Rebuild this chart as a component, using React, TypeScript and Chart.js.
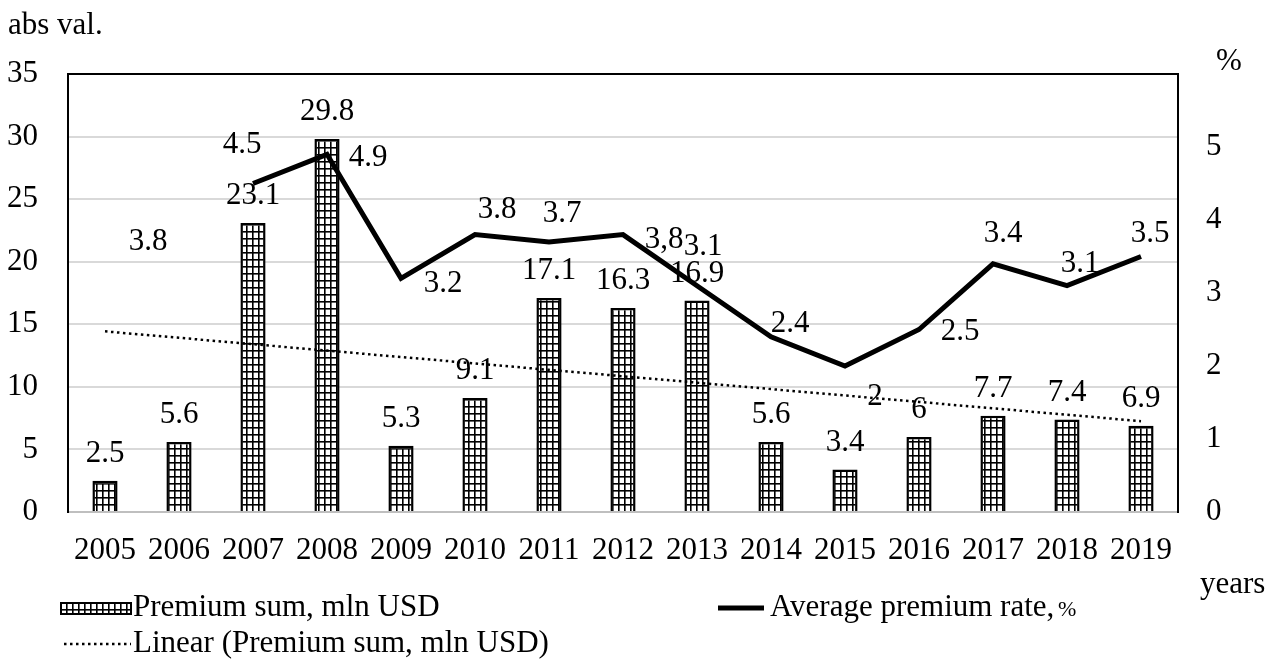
import { useEffect, useRef } from 'react';
import { Chart, registerables } from 'chart.js';

Chart.register(...registerables);

// ---- data -------------------------------------------------------------
const YEARS = ['2005', '2006', '2007', '2008', '2009', '2010', '2011', '2012', '2013', '2014', '2015', '2016', '2017', '2018', '2019'];
const PREMIUM_SUM = [2.5, 5.6, 23.1, 29.8, 5.3, 9.1, 17.1, 16.3, 16.9, 5.6, 3.4, 6, 7.7, 7.4, 6.9];
const PREMIUM_RATE: (number | null)[] = [null, 3.8, 4.5, 4.9, 3.2, 3.8, 3.7, 3.8, 3.1, 2.4, 2, 2.5, 3.4, 3.1, 3.5];

const LEFT_MAX = 35;
const LEFT_STEP = 5;
const RIGHT_MAX = 6;
const RIGHT_STEP = 1;

// the rate line itself starts at 2007; the 2006 value only carries a label
const RATE_LINE_START = 2;
// labels written with a decimal comma
const COMMA_LABELS = [7];
// label placement relative to each rate point (dx, dy)
const RATE_LABEL_SHIFT: [number, number][] = [
  [0, 0], [-31, 5], [-11, -41], [41, 2], [42, 3], [22, -27], [13, -30], [41, 3],
  [6, -41], [19, -15], [30, 29], [41, 0], [10, -32], [13, -24], [9, -25],
];

const SERIF = '"Liberation Serif", "Times New Roman", serif';
const FONT_SIZE = 31;

// Least-squares trend of the premium sums (x = 1..n)
function linearTrend(values: number[]): number[] {
  const n = values.length;
  const xs = values.map((_, i) => i + 1);
  const mx = xs.reduce((a, b) => a + b, 0) / n;
  const my = values.reduce((a, b) => a + b, 0) / n;
  let sxy = 0;
  let sxx = 0;
  for (let i = 0; i < n; i++) {
    sxy += (xs[i] - mx) * (values[i] - my);
    sxx += (xs[i] - mx) * (xs[i] - mx);
  }
  const slope = sxy / sxx;
  const icpt = my - slope * mx;
  return xs.map((x) => icpt + slope * x);
}

// small square grid fill used for the bars
function makeGridPattern(): CanvasPattern | string {
  const tile = document.createElement('canvas');
  tile.width = 6;
  tile.height = 7;
  const c = tile.getContext('2d');
  if (!c) return '#ffffff';
  c.fillStyle = '#ffffff';
  c.fillRect(0, 0, 6, 7);
  c.fillStyle = '#000000';
  c.fillRect(0, 0, 1.6, 7);
  c.fillRect(0, 0, 6, 1.6);
  const ctx = document.createElement('canvas').getContext('2d');
  return ctx?.createPattern(tile, 'repeat') ?? '#ffffff';
}

export default function App() {
  const canvasRef = useRef<HTMLCanvasElement | null>(null);

  useEffect(() => {
    const canvas = canvasRef.current;
    if (!canvas) return;
    const pattern = makeGridPattern();
    const trend = linearTrend(PREMIUM_SUM);
    const font = { family: SERIF, size: FONT_SIZE };

    const decorations = {
      id: 'decorations',
      beforeDatasetsDraw(chart: any) {
        const { ctx, chartArea } = chart;
        ctx.save();
        ctx.strokeStyle = '#000';
        ctx.lineWidth = 2;
        ctx.beginPath();
        ctx.moveTo(chartArea.left - 1, chartArea.top);
        ctx.lineTo(chartArea.right + 1, chartArea.top);
        ctx.stroke();
        ctx.restore();
      },
      afterDatasetsDraw(chart: any) {
        const { ctx } = chart;
        ctx.save();
        ctx.fillStyle = '#000';
        ctx.font = `${FONT_SIZE}px ${SERIF}`;
        ctx.textAlign = 'center';
        ctx.textBaseline = 'middle';
        // premium sum labels above the bars
        const bars = chart.getDatasetMeta(0).data;
        bars.forEach((el: any, i: number) => {
          ctx.fillText(String(PREMIUM_SUM[i]), el.x, el.y - 27);
        });
        // rate labels
        const pts = chart.getDatasetMeta(2).data;
        pts.forEach((el: any, i: number) => {
          const v = PREMIUM_RATE[i];
          if (v == null) return;
          let txt = String(v);
          if (COMMA_LABELS.includes(i)) txt = txt.replace('.', ',');
          const [dx, dy] = RATE_LABEL_SHIFT[i];
          ctx.fillText(txt, el.x + dx, el.y + dy + 2);
        });
        ctx.restore();
      },
      afterDraw(chart: any) {
        const { ctx, chartArea } = chart;
        ctx.save();
        ctx.fillStyle = '#000';
        ctx.font = `${FONT_SIZE}px ${SERIF}`;
        ctx.textBaseline = 'alphabetic';
        ctx.textAlign = 'left';
        // axis titles
        ctx.fillText('abs val.', 8, chartArea.top - 40);
        ctx.fillText('%', chartArea.right + 38, chartArea.top - 4);
        ctx.fillText('years', chartArea.right + 22, chartArea.bottom + 81);

        // legend
        const row1 = chartArea.bottom + 104;
        const row2 = chartArea.bottom + 140;
        ctx.fillStyle = pattern;
        ctx.fillRect(61, row1 - 13, 70, 11);
        ctx.strokeStyle = '#000';
        ctx.lineWidth = 2;
        ctx.strokeRect(61, row1 - 13, 70, 11);
        ctx.fillStyle = '#000';
        ctx.fillText('Premium sum, mln USD', 133, row1);

        ctx.lineWidth = 5;
        ctx.beginPath();
        ctx.moveTo(718, row1 - 8);
        ctx.lineTo(764, row1 - 8);
        ctx.stroke();
        const base = 'Average premium rate, ';
        ctx.fillText(base, 770, row1);
        const w = ctx.measureText(base).width;
        ctx.font = `22px ${SERIF}`;
        ctx.fillText('%', 770 + w - 4, row1);

        ctx.font = `${FONT_SIZE}px ${SERIF}`;
        ctx.lineWidth = 2.5;
        ctx.setLineDash([2.5, 3.5]);
        ctx.beginPath();
        ctx.moveTo(64, row2 - 8);
        ctx.lineTo(131, row2 - 8);
        ctx.stroke();
        ctx.setLineDash([]);
        ctx.fillText('Linear (Premium sum, mln USD)', 133, row2);
        ctx.restore();
      },
    };

    const chart = new Chart(canvas, {
      data: {
        labels: YEARS,
        datasets: [
          {
            type: 'bar',
            label: 'Premium sum, mln USD',
            data: PREMIUM_SUM,
            backgroundColor: pattern as any,
            borderColor: '#000',
            borderWidth: 2.5,
            barPercentage: 0.34,
            categoryPercentage: 1,
            yAxisID: 'y',
            order: 3,
          },
          {
            type: 'line',
            label: 'Linear (Premium sum, mln USD)',
            data: trend,
            borderColor: '#000',
            borderWidth: 2.5,
            borderDash: [2.5, 3.5],
            pointRadius: 0,
            yAxisID: 'y',
            order: 2,
          },
          {
            type: 'line',
            label: 'Average premium rate, %',
            data: PREMIUM_RATE,
            borderColor: '#000',
            borderWidth: 5,
            pointRadius: 0,
            spanGaps: false,
            yAxisID: 'y1',
            order: 1,
            segment: {
              borderColor: (c: any) => (c.p0DataIndex < RATE_LINE_START ? 'rgba(0,0,0,0)' : '#000'),
            },
          },
        ],
      } as any,
      options: {
        responsive: false,
        animation: false,
        layout: { padding: { top: 74, left: 0, right: 0, bottom: 0 } },
        plugins: {
          legend: { display: false },
          tooltip: { enabled: false },
        },
        scales: {
          x: {
            grid: { display: false, drawTicks: false },
            border: { display: true, color: '#bfbfbf', width: 2 },
            ticks: { font, color: '#000', padding: 20, maxRotation: 0, autoSkip: false },
            afterFit: (s: any) => { s.height = 152; },
          },
          y: {
            position: 'left',
            min: 0,
            max: LEFT_MAX,
            ticks: { stepSize: LEFT_STEP, font, color: '#000', padding: 30 },
            grid: { color: '#d9d9d9', lineWidth: 2, drawTicks: false },
            border: { color: '#000', width: 2 },
            afterFit: (s: any) => { s.width = 68; },
          },
          y1: {
            position: 'right',
            min: 0,
            max: RIGHT_MAX,
            ticks: {
              stepSize: RIGHT_STEP,
              font,
              color: '#000',
              padding: 28,
              callback: (v: any) => (v === RIGHT_MAX ? '' : v),
            },
            grid: { display: false, drawTicks: false },
            border: { color: '#000', width: 2 },
            afterFit: (s: any) => { s.width = 102; },
          },
        },
      } as any,
      plugins: [decorations],
    });

    return () => chart.destroy();
  }, []);

  return (
    <div style={{ position: 'fixed', left: 0, top: 0, width: 1280, height: 664, background: '#fff' }}>
      <canvas ref={canvasRef} width={1280} height={664} style={{ display: 'block' }} />
    </div>
  );
}
